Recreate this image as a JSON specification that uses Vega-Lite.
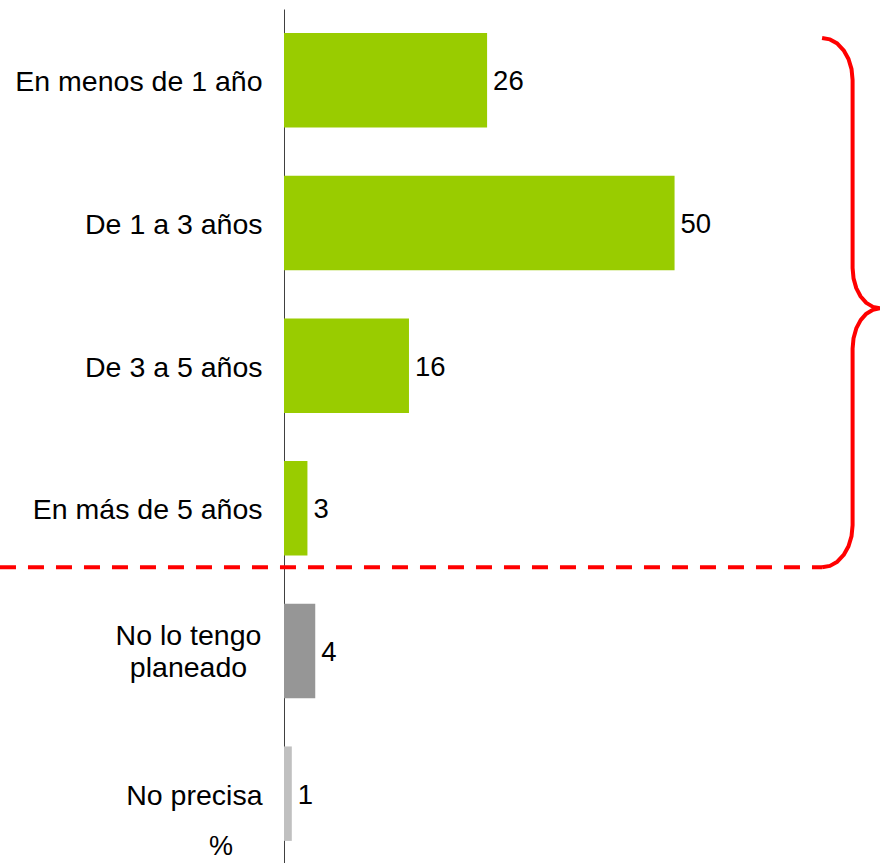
{
  "$schema": "https://vega.github.io/schema/vega-lite/v6.json",
  "width": 596,
  "height": 856,
  "autosize": "none",
  "padding": {"left": 284, "top": 9, "right": 0, "bottom": 0},
  "background": "white",
  "config": {"view": {"stroke": null}, "font": "Liberation Sans"},
  "datasets": {
    "bars": [
      {"cat": "En menos de 1 año", "v": 26, "grp": "plan"},
      {"cat": "De 1 a 3 años", "v": 50, "grp": "plan"},
      {"cat": "De 3 a 5 años", "v": 16, "grp": "plan"},
      {"cat": "En más de 5 años", "v": 3, "grp": "plan"},
      {"cat": "No lo tengo planeado", "v": 4, "grp": "no"},
      {"cat": "No precisa", "v": 1, "grp": "np"}
    ],
    "brace": [
      {"i": 0, "x": 68.886, "y": 0.2033},
      {"i": 1, "x": 69.898, "y": 0.2131},
      {"i": 2, "x": 70.839, "y": 0.2425},
      {"i": 3, "x": 71.648, "y": 0.2895},
      {"i": 4, "x": 72.268, "y": 0.3505},
      {"i": 5, "x": 72.658, "y": 0.4213},
      {"i": 6, "x": 72.791, "y": 0.4977},
      {"i": 7, "x": 72.791, "y": 1.8154},
      {"i": 8, "x": 72.912, "y": 1.8883},
      {"i": 9, "x": 73.262, "y": 1.9566},
      {"i": 10, "x": 73.823, "y": 2.0151},
      {"i": 11, "x": 74.552, "y": 2.06},
      {"i": 12, "x": 75.401, "y": 2.088},
      {"i": 13, "x": 76.312, "y": 2.0978},
      {"i": 14, "x": 75.401, "y": 2.1077},
      {"i": 15, "x": 74.552, "y": 2.1357},
      {"i": 16, "x": 73.823, "y": 2.1806},
      {"i": 17, "x": 73.262, "y": 2.2391},
      {"i": 18, "x": 72.912, "y": 2.3074},
      {"i": 19, "x": 72.791, "y": 2.3803},
      {"i": 20, "x": 72.791, "y": 3.6188},
      {"i": 21, "x": 72.658, "y": 3.6952},
      {"i": 22, "x": 72.268, "y": 3.7661},
      {"i": 23, "x": 71.648, "y": 3.827},
      {"i": 24, "x": 70.839, "y": 3.874},
      {"i": 25, "x": 69.898, "y": 3.9034},
      {"i": 26, "x": 68.886, "y": 3.9132}
    ],
    "dash": [{"x": -36.36, "x2": 68.886, "y": 3.9132}],
    "pct": [{"x": -8.07, "y": 5.877, "t": "%"}]
  },
  "layer": [
    {
      "data": {"name": "bars"},
      "encoding": {
        "y": {
          "field": "cat",
          "type": "nominal",
          "sort": null,
          "scale": {"paddingInner": 0.338, "paddingOuter": 0.169},
          "axis": {
            "title": null,
            "ticks": false,
            "grid": false,
            "domainColor": "#404040",
            "domainWidth": 1,
            "labelFontSize": 28.5,
            "labelColor": "#000000",
            "labelLimit": 0,
            "labelLineHeight": 32,
            "labelExpr": "datum.value == 'No lo tengo planeado' ? ['No lo tengo', 'planeado'] : datum.value",
            "labelAlign": {"condition": {"test": "datum.value == 'No lo tengo planeado'", "value": "center"}, "value": "right"},
            "labelPadding": {"condition": {"test": "datum.value == 'No lo tengo planeado'", "value": 96}, "value": 22},
            "labelOffset": {"condition": {"test": "datum.value == 'No lo tengo planeado'", "value": -15}, "value": 2}
          }
        },
        "x": {
          "field": "v",
          "type": "quantitative",
          "scale": {"domain": [0, 76.3], "nice": false, "zero": true},
          "axis": null
        }
      },
      "layer": [
        {
          "mark": {"type": "bar"},
          "encoding": {
            "color": {
              "field": "grp",
              "type": "nominal",
              "scale": {"domain": ["plan", "no", "np"], "range": ["#99CC00", "#969696", "#C0C0C0"]},
              "legend": null
            }
          }
        },
        {
          "mark": {"type": "text", "align": "left", "baseline": "middle", "dx": 6, "dy": 2, "fontSize": 27.5, "color": "#000000"},
          "encoding": {"text": {"field": "v", "type": "quantitative"}}
        }
      ]
    },
    {
      "data": {"name": "brace"},
      "mark": {"type": "line", "stroke": "#FF0000", "strokeWidth": 4, "strokeCap": "butt", "strokeJoin": "round"},
      "encoding": {
        "x": {"field": "x", "type": "quantitative", "scale": {"domain": [0, 76.3], "nice": false, "zero": true}, "axis": null},
        "y": {"field": "y", "type": "quantitative", "scale": {"domain": [0, 6], "reverse": true, "nice": false, "zero": false}, "axis": null},
        "order": {"field": "i", "type": "quantitative"}
      }
    },
    {
      "data": {"name": "dash"},
      "mark": {"type": "rule", "stroke": "#FF0000", "strokeWidth": 4, "strokeDash": [16, 12]},
      "encoding": {
        "x": {"field": "x", "type": "quantitative", "scale": {"domain": [0, 76.3], "nice": false, "zero": true}, "axis": null},
        "x2": {"field": "x2"},
        "y": {"field": "y", "type": "quantitative", "scale": {"domain": [0, 6], "reverse": true, "nice": false, "zero": false}, "axis": null}
      }
    },
    {
      "data": {"name": "pct"},
      "mark": {"type": "text", "align": "center", "baseline": "middle", "fontSize": 27, "color": "#000000"},
      "encoding": {
        "x": {"field": "x", "type": "quantitative", "scale": {"domain": [0, 76.3], "nice": false, "zero": true}, "axis": null},
        "y": {"field": "y", "type": "quantitative", "scale": {"domain": [0, 6], "reverse": true, "nice": false, "zero": false}, "axis": null},
        "text": {"field": "t"}
      }
    }
  ],
  "resolve": {"scale": {"y": "independent"}, "axis": {"y": "independent"}}
}
